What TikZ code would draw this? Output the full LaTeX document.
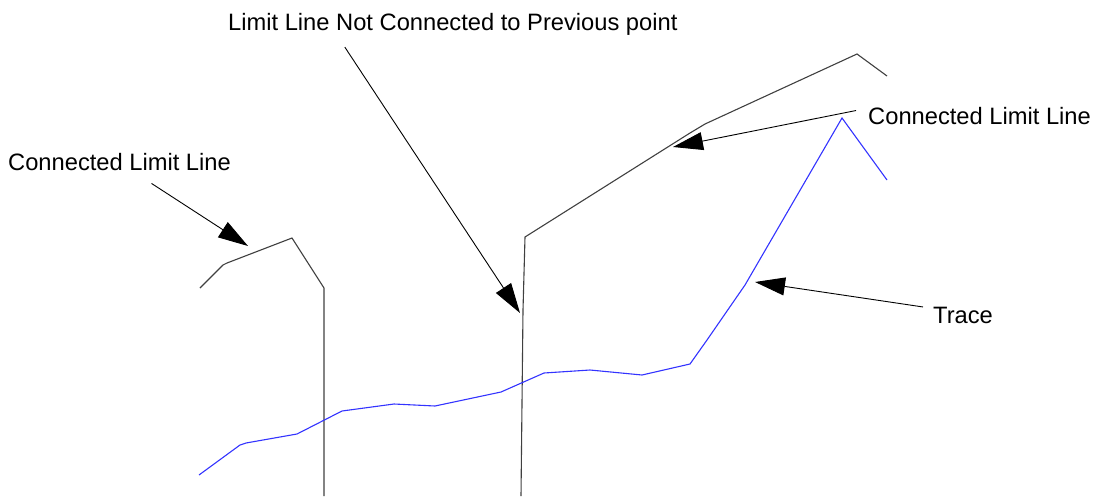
\documentclass[tikz,border=0pt]{standalone}
\usepackage{fontspec}
\setmainfont{Liberation Sans}
\usepackage{xcolor}
\usepackage{tikz}
\usetikzlibrary{arrows.meta}

\begin{document}
\begin{tikzpicture}[x = 1pt, y = -1pt, font = \fontsize{23.7}{28}\selectfont,
	limit/.style = {draw = black!75, line width = 1.1pt},
	trace/.style = {draw = blue!80, line width = 1.1pt},
	lbl/.style = {inner sep = 0pt, anchor = base west},
	pointer/.style = {draw = black, line width = 0.9pt, -{Triangle[length = 30pt, width = 18pt]}}]
	\useasboundingbox (0, 0) rectangle (1094, 496);
	% limit lines and trace
	\draw[limit] (200, 288) -- (223, 265) -- (227, 263) -- (292, 238) -- (324, 288) -- (324, 496);
	\draw[limit] (521, 496) -- (523, 310) -- (525, 237) -- (690, 133) -- (705, 124) -- (857, 54) -- (887, 76);
	\draw[trace] plot coordinates {(199, 475) (240, 445) (246, 443) (297, 434) (342, 411) (394, 404) (435, 406) (501, 392) (544, 373) (590, 370) (642, 375) (690, 364) (707, 340) (745, 285) (842, 118) (887, 180)};
	% labels
	\node[lbl] (limA) at (8, 170) {Connected Limit Line};
	\node[lbl] (limB) at (228, 30) {Limit Line Not Connected to Previous point};
	\node[lbl] (limC) at (868, 124) {Connected Limit Line};
	\node[lbl] (trc) at (933, 323) {Trace};
	\coordinate (tipA) at (248, 246);
	\coordinate (tipB) at (520, 313);
	\coordinate (tipC) at (673, 147);
	\coordinate (tipT) at (755, 282);
	\draw[pointer] ([shift = {(32, 13)}]limA.south) -- (tipA);
	\draw[pointer] ([shift = {(-108, 12)}]limB.south) -- (tipB);
	\draw[pointer] ([shift = {(-12, -5)}]limC.west) -- (tipC);
	\draw[pointer] ([shift = {(-10, -8)}]trc.west) -- (tipT);
\end{tikzpicture}
\end{document}
